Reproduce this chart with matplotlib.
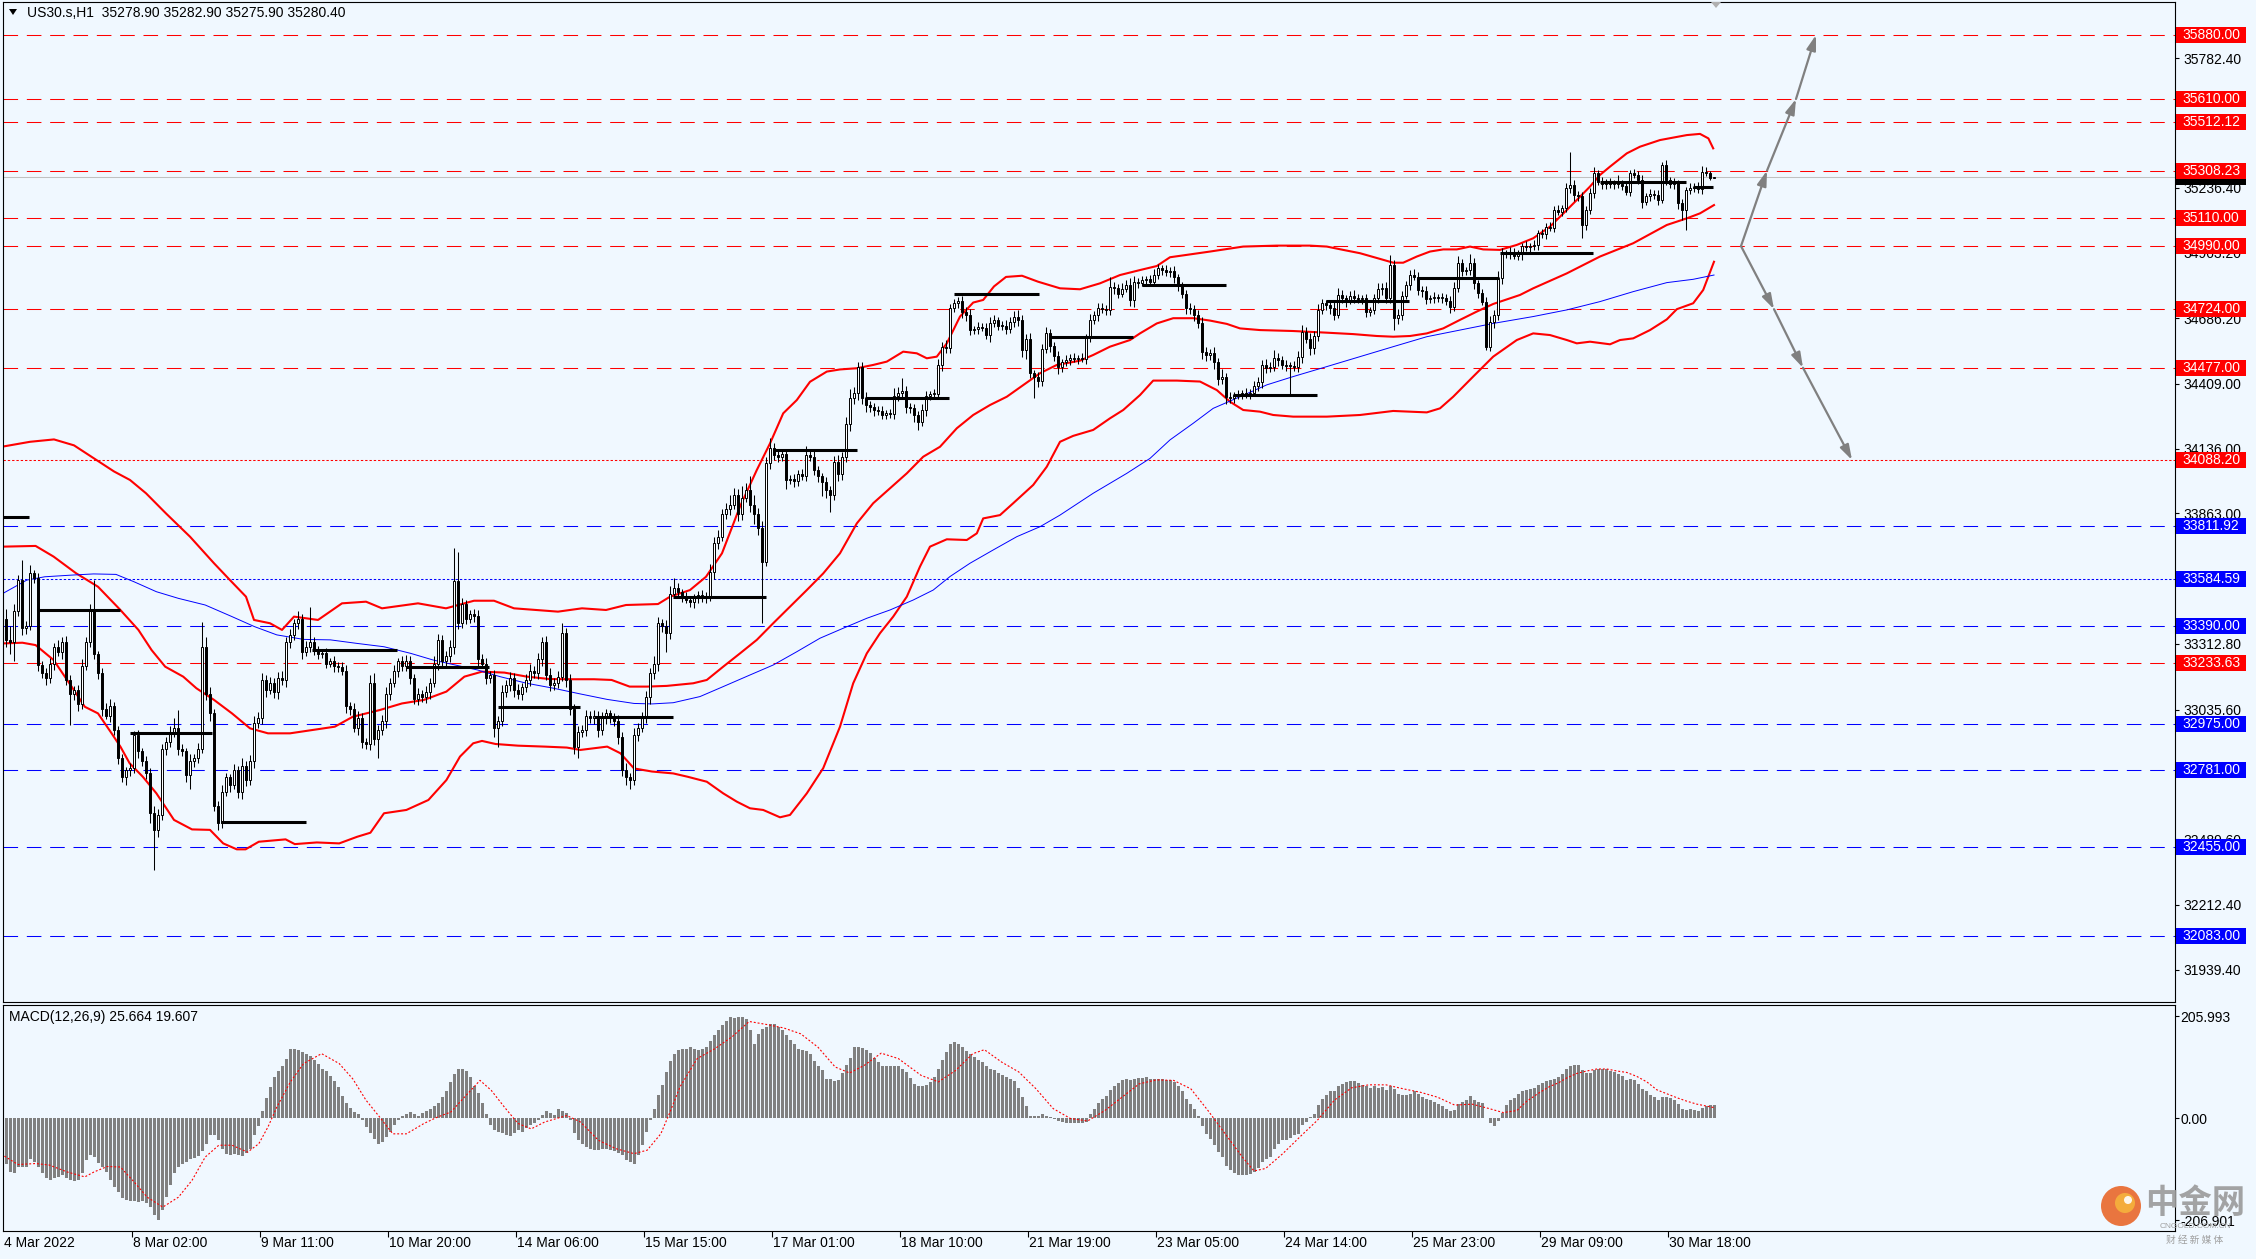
import matplotlib
matplotlib.use('Agg')
import matplotlib.pyplot as plt
import matplotlib.transforms as mtransforms
from matplotlib.patches import Rectangle, Circle, Polygon

plt.rcParams['font.family'] = ['Liberation Sans', 'DejaVu Sans']
plt.rcParams['lines.scale_dashes'] = False

W, H, DPI = 2256, 1259, 100
BG = '#F0F8FF'

# ---------------- data ----------------
first_open = 33420
closes = [
    33330, 33320, 33450, 33582, 33380, 33390, 33610, 33590, 33225, 33190,
    33170, 33230, 33300, 33280, 33320, 33160, 33100, 33120, 33060, 33220,
    33320, 33450, 33270, 33190, 33040, 33010, 33050, 32950, 32830, 32750,
    32780, 32790, 32930, 32860, 32820, 32770, 32600, 32530, 32590, 32870,
    32900, 32940, 32960, 32870, 32860, 32760, 32820, 32830, 32870, 33300,
    33100, 33020, 32630, 32560, 32690, 32750, 32720, 32780, 32690, 32800,
    32740, 32820, 32980, 33000, 33160, 33120, 33150, 33110, 33170, 33160,
    33320, 33350, 33400, 33420, 33280, 33300, 33320, 33290, 33270, 33275,
    33230, 33240, 33220, 33215, 33200, 33050, 33040, 32960, 33000, 32900,
    32890, 33150, 32910, 32950, 32990, 33100, 33150, 33200, 33240, 33220,
    33240, 33170, 33080, 33100, 33090, 33110, 33150, 33230, 33330, 33240,
    33260, 33300, 33580, 33400, 33480, 33420, 33440, 33430, 33250, 33230,
    33170, 33180, 32960, 32990, 33110, 33140, 33170, 33120, 33100, 33130,
    33160, 33200, 33190, 33250, 33320, 33180, 33140, 33150, 33175, 33360,
    33160, 33040, 32880, 32940, 32950, 33010, 33000, 33010, 32950, 33000,
    33020, 33000, 32990, 32920, 32780, 32750, 32740, 32930, 32960, 33000,
    33090, 33190, 33230, 33400, 33390, 33360, 33525, 33550, 33530, 33510,
    33500, 33490, 33505, 33520, 33505, 33515, 33618, 33737, 33765, 33860,
    33880, 33900, 33940, 33860, 33930, 33960, 33900, 33860, 33800, 33660,
    34074, 34140, 34110, 34100, 34115, 34005, 34010, 34000, 34030, 34020,
    34108, 34100, 34045, 34020, 33995, 33960, 33940, 34080, 34030, 34100,
    34240, 34348, 34370, 34480, 34348, 34320, 34310, 34300, 34295, 34280,
    34285, 34282, 34360, 34370, 34380, 34313, 34306, 34280, 34250, 34300,
    34360, 34365, 34367, 34490, 34566, 34560, 34727, 34750, 34760, 34713,
    34700, 34636, 34640, 34650, 34645, 34617, 34665, 34678, 34655, 34652,
    34640, 34670, 34690, 34680, 34552, 34600, 34454, 34440, 34420, 34558,
    34622, 34570, 34526, 34480, 34500, 34510, 34520, 34515, 34518, 34515,
    34601, 34680, 34700, 34730, 34725, 34720, 34819, 34815, 34790, 34810,
    34825, 34763, 34840, 34835, 34845, 34850, 34840, 34868, 34896, 34889,
    34880, 34885, 34858, 34820, 34790, 34730, 34725, 34700, 34665, 34545,
    34531, 34540, 34500, 34430, 34440, 34355, 34350, 34362, 34365, 34370,
    34365, 34372, 34400, 34415, 34489, 34475, 34482, 34520, 34510, 34490,
    34485, 34484, 34480, 34524, 34629, 34600, 34560, 34610, 34720, 34749,
    34740, 34728, 34700, 34784, 34770, 34760, 34780, 34770, 34765, 34770,
    34714, 34720, 34770, 34810, 34815, 34770, 34910, 34686, 34700, 34780,
    34826, 34868, 34860, 34805, 34800, 34765, 34770, 34775, 34770, 34772,
    34760, 34735, 34812, 34917, 34885, 34888, 34920, 34833, 34791, 34756,
    34566, 34670, 34700, 34854, 34960, 34955, 34965, 34950, 34955, 34990,
    34985, 34990, 34995, 35044, 35040, 35072, 35068, 35142, 35135, 35150,
    35234, 35248, 35206, 35200, 35079, 35142, 35213, 35297, 35262, 35252,
    35258, 35250, 35255, 35252, 35245, 35220, 35297, 35290, 35270, 35177,
    35200, 35210, 35205, 35185, 35332, 35268, 35250, 35255, 35170, 35142,
    35225, 35236, 35240, 35230, 35304, 35300, 35279, 35280.4,
]
upper_wick = [
    40, 60, 30, 20, 85, 20, 36, 15, 20, 15, 20, 25, 15, 30, 20, 25, 20, 15, 20, 30,
    20, 30, 132, 15, 20, 25, 30, 20, 15, 20, 15, 20, 15, 20, 15, 20, 20, 30, 25, 20,
    20, 25, 40, 75, 20, 15, 30, 20, 25, 107, 40, 30, 20, 20, 30, 20, 15, 25, 20, 30,
    20, 25, 30, 25, 30, 20, 25, 20, 25, 30, 20, 25, 20, 30, 20, 25, 150, 20, 15, 15,
    20, 15, 20, 15, 20, 25, 20, 25, 30, 20, 15, 30, 40, 20, 25, 30, 20, 25, 15, 20,
    25, 20, 15, 25, 20, 25, 20, 30, 25, 20, 25, 30, 136, 120, 25, 20, 15, 20, 25, 20,
    25, 20, 25, 20, 30, 20, 25, 20, 25, 20, 25, 30, 20, 25, 20, 25, 30, 20, 25, 40,
    20, 25, 20, 25, 20, 25, 20, 25, 20, 25, 20, 15, 20, 25, 20, 30, 20, 30, 20, 25,
    25, 20, 30, 25, 20, 25, 30, 40, 20, 15, 20, 15, 20, 15, 20, 15, 30, 25, 30, 20,
    25, 40, 30, 25, 50, 30, 60, 40, 25, 30, 25, 40, 20, 15, 20, 20, 15, 20, 15, 20,
    40, 20, 25, 20, 15, 20, 20, 25, 30, 20, 30, 40, 25, 23, 20, 25, 15, 20, 15, 20,
    15, 20, 30, 25, 53, 20, 15, 20, 15, 25, 20, 15, 20, 25, 20, 30, 20, 15, 15, 20,
    20, 25, 15, 20, 15, 20, 25, 20, 15, 20, 25, 20, 25, 30, 20, 20, 25, 15, 20, 20,
    25, 20, 15, 20, 15, 20, 15, 20, 15, 20, 20, 25, 15, 20, 20, 15, 40, 20, 15, 25,
    20, 30, 25, 15, 20, 15, 20, 25, 20, 15, 20, 15, 20, 15, 20, 15, 20, 15, 20, 25,
    20, 15, 25, 20, 30, 15, 20, 15, 20, 15, 20, 15, 20, 25, 20, 25, 20, 30, 20, 15,
    20, 15, 20, 25, 30, 20, 25, 20, 25, 20, 15, 20, 25, 30, 20, 15, 20, 25, 20, 15,
    20, 15, 20, 25, 20, 25, 43, 20, 25, 20, 15, 20, 25, 20, 15, 20, 15, 20, 15, 20,
    15, 20, 25, 30, 20, 15, 35, 20, 15, 20, 20, 25, 20, 30, 20, 15, 20, 15, 20, 15,
    20, 15, 20, 15, 20, 15, 20, 15, 20, 15, 20, 140, 20, 15, 20, 15, 20, 28, 15, 20,
    15, 20, 15, 35, 15, 20, 15, 20, 15, 20, 15, 20, 15, 20, 14, 20, 15, 20, 15, 20,
    15, 20, 15, 20, 25, 20, 8, 2.5,
]
lower_wick = [
    30, 50, 80, 20, 30, 25, 20, 20, 25, 20, 30, 20, 25, 20, 30, 20, 130, 25, 30, 20,
    15, 20, 20, 25, 30, 15, 25, 20, 25, 20, 30, 25, 20, 30, 20, 25, 40, 170, 30, 20,
    25, 20, 20, 25, 20, 30, 60, 25, 20, 15, 25, 30, 20, 30, 25, 20, 30, 20, 25, 30,
    25, 20, 30, 20, 25, 30, 20, 25, 30, 20, 30, 25, 20, 25, 30, 20, 20, 25, 20, 15,
    20, 15, 25, 20, 20, 30, 25, 20, 30, 25, 20, 25, 25, 80, 20, 30, 25, 20, 25, 20,
    20, 25, 20, 25, 20, 25, 30, 20, 25, 30, 20, 25, 30, 25, 20, 25, 20, 25, 30, 20,
    25, 20, 40, 80, 25, 20, 25, 30, 20, 25, 20, 25, 20, 25, 30, 20, 25, 20, 25, 20,
    30, 25, 30, 50, 20, 25, 20, 25, 30, 20, 25, 20, 25, 30, 25, 30, 40, 20, 25, 20,
    20, 30, 25, 30, 25, 80, 25, 20, 15, 20, 15, 20, 25, 20, 15, 20, 20, 30, 25, 20,
    20, 25, 20, 30, 25, 20, 30, 40, 30, 260, 20, 25, 20, 20, 15, 40, 20, 25, 20, 15,
    20, 15, 20, 25, 60, 30, 70, 20, 30, 25, 20, 30, 25, 30, 25, 30, 20, 25, 15, 20,
    20, 15, 20, 25, 20, 25, 20, 30, 35, 20, 25, 20, 15, 20, 25, 20, 20, 15, 20, 25,
    25, 20, 15, 20, 15, 20, 30, 15, 20, 15, 20, 15, 20, 25, 30, 40, 20, 90, 25, 20,
    20, 25, 20, 30, 20, 15, 20, 15, 20, 15, 20, 15, 20, 25, 15, 20, 20, 25, 20, 15,
    15, 25, 30, 20, 15, 20, 15, 20, 15, 20, 15, 20, 25, 20, 20, 25, 20, 25, 20, 30,
    25, 20, 30, 25, 20, 30, 23, 20, 15, 20, 15, 20, 15, 20, 25, 20, 15, 20, 25, 20,
    20, 125, 15, 20, 25, 20, 30, 25, 20, 15, 20, 25, 20, 15, 20, 25, 15, 20, 15, 20,
    25, 20, 15, 20, 25, 20, 20, 50, 25, 20, 15, 20, 15, 20, 25, 20, 15, 20, 15, 20,
    20, 25, 20, 15, 20, 15, 20, 25, 20, 15, 14, 20, 25, 20, 25, 15, 20, 15, 20, 25,
    15, 20, 15, 20, 15, 20, 15, 20, 15, 20, 15, 20, 25, 20, 56, 20, 15, 20, 15, 20,
    20, 15, 20, 15, 20, 15, 20, 15, 20, 25, 15, 20, 15, 20, 15, 20, 15, 20, 25, 40,
    84, 15, 20, 15, 20, 15, 10, 3,
]

# Bollinger bands and moving average, read as (bar, price) points
bb_up_x = [-0.75, 6, 12, 17, 22, 27, 31, 35, 40, 46, 52, 56, 60, 62, 66, 69, 72, 78, 84, 90, 94, 103,
           110, 117, 122, 127, 138, 144, 150, 155, 163, 166, 171, 175, 179, 183.5, 187.7, 191, 194.3,
           197.7, 201, 205.2, 208.5, 212.7, 216.8, 220.2, 224.3, 227.7, 230.2, 232.7, 235.2, 238.5,
           241.8, 244.3, 247, 250, 254, 258, 263.5, 268.5, 273.5, 278.5, 283.5, 287.7, 291, 295.2,
           301, 309.3, 317.7, 326, 330.2, 334.3, 338.5, 343.5, 346.8, 349.3, 352.7, 356, 359.3,
           362.7, 366, 369.3, 373.5, 377.7, 381.8, 386, 390.2, 393.5, 396, 398.5, 401, 405.2,
           408.5, 413.5, 420.2, 423.5, 425.6, 426.8]
bb_up_y = [34145, 34165, 34175, 34150, 34095, 34040, 34004, 33948, 33863, 33765, 33653, 33582, 33512,
           33414, 33400, 33372, 33428, 33414, 33484, 33491, 33463, 33484, 33463, 33495, 33495, 33463,
           33449, 33463, 33456, 33477, 33481, 33512, 33540, 33596, 33695, 33892, 34046, 34158, 34285,
           34341, 34418, 34461, 34470, 34475, 34489, 34503, 34545, 34538, 34517, 34524, 34580, 34693,
           34752, 34763, 34820, 34860, 34865, 34840, 34812, 34808, 34833, 34868, 34889, 34906, 34943,
           34953, 34967, 34988, 34992, 34992, 34988, 34974, 34960, 34936, 34920, 34920, 34946, 34967,
           34976, 34976, 34988, 34976, 34974, 34995, 35023, 35072, 35142, 35198, 35241, 35290, 35325,
           35381, 35409, 35437, 35458, 35463, 35444, 35402]
bb_mid_x = [-0.75, 7.4, 11.9, 17.5, 23, 28.6, 33.1, 36.4, 39.8, 44.3, 47.6, 52, 56.5, 61, 65.5, 71,
            76.6, 82.2, 86.7, 93.4, 99, 104.5, 110.1, 114.6, 119, 124.6, 130.2, 135.8, 141.4, 147,
            151.4, 155.9, 160.3, 165.2, 171.8, 175.2, 179.3, 183.5, 187.7, 191.8, 196, 200.2, 204.3,
            208.5, 212.7, 216.8, 221, 225.2, 229.3, 233.5, 237.7, 241.8, 246, 250.2, 254.3, 258.5,
            262.7, 268.5, 271.8, 276, 281, 283.5, 287.7, 291.8, 296.8, 301, 305.2, 308.5, 313.5,
            321.8, 330.2, 336.8, 342.7, 346.8, 351, 355.2, 359.3, 363.5, 367.7, 371.8, 378.5, 381.8,
            390.2, 398.5, 406.8, 415.2, 420.2, 423.5, 427]
bb_mid_y = [33723, 33726, 33681, 33611, 33554, 33456, 33372, 33287, 33217, 33175, 33126, 33077, 33020,
            32957, 32936, 32936, 32950, 32964, 33006, 33034, 33062, 33077, 33112, 33175, 33196, 33192,
            33175, 33165, 33164, 33164, 33161, 33133, 33133, 33136, 33147, 33161, 33217, 33273, 33330,
            33400, 33470, 33540, 33610, 33695, 33821, 33906, 33969, 34032, 34102, 34144, 34222, 34278,
            34320, 34355, 34404, 34454, 34489, 34507, 34531, 34566, 34594, 34622, 34664, 34686, 34686,
            34676, 34662, 34643, 34636, 34632, 34625, 34619, 34611, 34608, 34611, 34622, 34643, 34679,
            34714, 34746, 34784, 34812, 34875, 34946, 35002, 35079, 35107, 35128, 35163]
bb_low_x = [-0.75, 4.1, 7.4, 11.9, 16.4, 19.7, 23, 26.4, 28.6, 30.9, 34.2, 37.6, 42, 46.5, 51, 54.3,
            57.7, 59.9, 63.2, 69.9, 72.2, 77.7, 83.3, 87.8, 91.1, 94.5, 100.1, 105.6, 110.1, 113.5,
            116.8, 119, 122.4, 128, 134.7, 140.2, 143.6, 150.3, 153.6, 157, 161.5, 166.8, 170.4,
            175.2, 179.3, 182.7, 186, 189.3, 193.5, 196, 200.2, 204.3, 208.5, 211.8, 215.2, 218.5,
            221.8, 225.2, 228.5, 231, 235.2, 240.2, 242.7, 244.3, 248.5, 251.8, 256.8, 260.2, 263.5,
            266.8, 271.8, 276, 279.3, 283.5, 286.8, 292.7, 298.5, 302.7, 306, 309.3, 313.5, 316.8,
            321.8, 330.2, 338.5, 346.8, 355.2, 358.5, 361.8, 366.8, 371.8, 377.7, 381.8, 386, 390.2,
            392.7, 396, 401, 403.5, 406.8, 411, 415.2, 417.7, 421.8, 424.3, 427]
bb_low_y = [33315, 33318, 33308, 33245, 33133, 33048, 33020, 32936, 32880, 32810, 32753, 32683, 32571,
            32531, 32529, 32472, 32447, 32447, 32479, 32489, 32469, 32476, 32472, 32500, 32517, 32599,
            32613, 32655, 32739, 32838, 32894, 32904, 32891, 32884, 32880, 32876, 32866, 32880, 32852,
            32788, 32775, 32767, 32753, 32732, 32683, 32648, 32620, 32613, 32582, 32592, 32683, 32789,
            32964, 33147, 33273, 33358, 33428, 33512, 33639, 33723, 33754, 33751, 33779, 33842, 33856,
            33906, 33983, 34060, 34165, 34190, 34215, 34264, 34299, 34362, 34423, 34423, 34419, 34383,
            34334, 34299, 34292, 34278, 34271, 34271, 34278, 34295, 34289, 34306, 34355, 34440, 34524,
            34594, 34622, 34615, 34594, 34580, 34587, 34576, 34594, 34601, 34636, 34681, 34724, 34749,
            34805, 34924]
ma_x = [-0.75, 5.2, 9.7, 16.4, 21.9, 27.5, 32, 37.6, 43.1, 49.8, 56.5, 62.1, 67.7, 74.4, 81.1, 87.8,
        94.5, 101.2, 106.8, 112.3, 117.9, 123.5, 130.2, 136.9, 143.6, 150.3, 157, 161.5, 166.8, 173.5,
        179.3, 186, 191.8, 197.7, 203.5, 209.3, 215.2, 221, 226.8, 231.8, 236, 241, 246.8, 252.7,
        258.5, 263.5, 271.8, 280.2, 286, 291, 296.8, 301.8, 308.5, 315.2, 321.8, 330.2, 338.5, 346.8,
        355.2, 363.5, 371.8, 381.8, 390.2, 398.5, 406.8, 415.2, 421.8, 427]
ma_y = [33526, 33582, 33596, 33603, 33608, 33606, 33575, 33533, 33505, 33477, 33428, 33386, 33351,
        33332, 33330, 33315, 33301, 33273, 33245, 33224, 33203, 33175, 33147, 33126, 33102, 33079,
        33062, 33060, 33065, 33091, 33133, 33182, 33224, 33280, 33337, 33379, 33421, 33456, 33498,
        33540, 33597, 33653, 33709, 33765, 33807, 33856, 33948, 34032, 34095, 34173, 34243, 34306,
        34355, 34405, 34440, 34482, 34524, 34566, 34608, 34636, 34664, 34693, 34721, 34756, 34798,
        34836, 34850, 34868]

# thick black daily segments: start bar, end bar, price
seg_start = [-0.75, 8, 30.9, 53.7, 76.6, 100, 123, 147, 166.8, 191.7, 214.8, 237, 260.8, 283.9, 306.8,
             330, 352.9, 373.5, 398.5, 421.7]
seg_end = [5.8, 28.6, 51.5, 75, 97.8, 120.7, 143.6, 166.8, 190, 212.8, 235.8, 258.2, 281.8, 305,
           327.8, 350.8, 373.3, 396.8, 419.9, 426.8]
seg_price = [33849, 33456, 32939, 32564, 33287, 33217, 33048, 33006, 33512, 34130, 34351, 34790,
             34608, 34826, 34364, 34757, 34857, 34962, 35262, 35241]

red_levels = [35880.00, 35610.00, 35512.12, 35308.23, 35110.00, 34990.00, 34724.00, 34477.00, 33233.63]
red_dotted = [34088.20]
blue_levels = [33811.92, 33390.00, 32975.00, 32781.00, 32455.00, 32083.00]
blue_dotted = [33584.59]
last_price = 35280.40

price_ticks = [35782.40, 35236.40, 34963.20, 34686.20, 34409.00, 34136.00, 33863.00,
               33312.80, 33035.60, 32489.60, 32212.40, 31939.40]

arrow_up_x = [433.75, 440.25, 447.5, 452.5]
arrow_up_y = [34990.00, 35308.23, 35610.00, 35880.00]
arrow_dn_x = [433.75, 442, 449.25, 461.5]
arrow_dn_y = [34990.00, 34724.00, 34477.00, 34088.20]

macd_hist = [
    -92, -110, -112, -98, -100, -98, -82, -88, -98, -112,
    -122, -125, -122, -120, -115, -122, -125, -128, -125, -112,
    -85, -75, -78, -90, -100, -110, -125, -140, -150, -162,
    -165, -168, -168, -170, -168, -172, -180, -195, -206, -185,
    -160, -135, -112, -100, -92, -88, -82, -80, -76, -66,
    -52, -35, -35, -45, -62, -72, -74, -72, -74, -76,
    -70, -62, -35, -17, 14, 40, 62, 82, 95, 105,
    120, 140, 140, 138, 134, 130, 125, 118, 110, 100,
    94, 85, 75, 62, 45, 30, 20, 12, 8, -5,
    -18, -30, -42, -52, -48, -38, -28, -15, -5, 5,
    8, 12, 8, 5, 10, 14, 18, 25, 30, 42,
    55, 72, 88, 98, 100, 95, 82, 65, 50, 30,
    8, -15, -25, -28, -30, -35, -36, -30, -25, -28,
    -20, -15, -10, -5, 6, 15, 10, 6, 18, 14,
    10, -5, -30, -45, -52, -58, -62, -64, -65, -62,
    -62, -64, -66, -70, -75, -84, -88, -92,
    -75, -55, -29, -5, 19, 46, 66, 93, 116, 130,
    137, 140, 140, 143, 140, 138, 140, 143, 155, 167,
    177, 187, 196, 205, 203, 204, 205, 200, 177, 149,
    170, 179, 184, 189, 189, 184, 177, 167, 157, 150,
    140, 138, 136, 129, 116, 106, 96, 79, 79, 75,
    76, 91, 108, 121, 143, 144, 141, 138, 131, 122,
    113, 106, 106, 106, 106, 106, 99, 93, 81, 68,
    64, 64, 66, 73, 83, 98, 118, 133, 149, 153,
    150, 143, 136, 130, 123, 118, 113, 106, 100, 96,
    91, 86, 83, 79, 74, 61, 42, 24, 5, 5,
    5, 9, 5, 3, -2, -6, -8, -10, -10, -11,
    -11, -11, -8, 9, 19, 30, 39, 44, 56, 65,
    71, 76, 78, 77, 79, 81, 81, 83, 79, 78,
    79, 79, 77, 76, 73, 64, 55, 39, 29, 19,
    5, -17, -32, -42, -55, -69, -79, -96, -106, -112,
    -116, -116, -116, -114, -109, -102, -89, -82, -79, -62,
    -53, -45, -44, -40, -35, -32, -15, -8, 3, 9,
    26, 39, 46, 55, 55, 64, 69, 73, 74, 74,
    71, 66, 64, 61, 64, 61, 62, 56, 64, 59,
    48, 46, 46, 49, 54, 49, 42, 39, 36, 32,
    28, 24, 19, 15, 17, 29, 32, 37, 44, 36,
    32, 30, -1, -11, -17, -6,
    10, 26, 36, 41, 48, 54, 57, 59, 61, 67,
    70, 74, 76, 79, 82, 88, 98, 106, 108, 108,
    96, 90, 91, 97, 100, 100, 98, 95, 93, 88,
    84, 76, 78, 76, 69, 58, 54, 47, 43, 36,
    43, 43, 41, 37, 29, 19, 17, 19, 17, 15,
    21, 25, 27, 27,
]
sig_x = [-0.4, 3, 7.4, 10.8, 15.3, 19.7, 22, 25.3, 28.6, 32, 35.3, 39.2, 43.1, 46.5, 49.8, 53.2, 56.5,
         60.4, 63.2, 65.5, 67.7, 71.1, 74.4, 78.9, 83.3, 86.7, 90, 93.4, 96.7, 100.1, 104.5, 107.9,
         111.2, 114.6, 118.5, 121.3, 124.6, 128, 131.3, 134.7, 140.2, 143.6, 148.1, 152.5, 157, 160.3,
         163.7, 165.9, 168.5, 172.8, 177.2, 181.5, 185.8, 190.1, 194.4, 198.7, 203, 207.3, 210.9,
         214.5, 218.8, 223.1, 228.8, 233.1, 237.4, 241.7, 244.6, 248.9, 253.2, 257.5, 261.8, 266.1,
         270.4, 274.7, 279, 283.3, 287.6, 291.9, 296.2, 300.5, 304.8, 309.1, 312, 314.9, 319.2,
         323.5, 327.8, 332.1, 336.4, 340.7, 345, 349.3, 353.6, 357.9, 362.2, 366.5, 370.8, 374.3,
         377.7, 380.2, 383.5, 386, 388.1, 390.2, 392.7, 395.2, 397.7, 400.2, 402.7, 405.2, 407.7,
         410.2, 412.7, 415.2, 417.7, 420.2, 422.7, 425.2, 427]
sig_y = [-77, -94, -92, -95, -109, -119, -109, -98, -99, -129, -160, -180, -160, -126, -79, -55, -55,
         -69, -52, -18, 22, 73, 110, 130, 110, 79, 36, 2, -32, -32, -11, 2, 12, 42, 76, 56, 22, -11,
         -22, -8, 5, -8, -45, -62, -72, -65, -32, 10, 63, 120, 140, 164, 195, 189, 182, 170, 143, 103,
         91, 106, 131, 120, 86, 73, 96, 130, 138, 113, 93, 59, 19, -1, -6, 15, 42, 69, 77, 76, 59, 15,
         -32, -79, -107, -102, -72, -38, -5, 36, 61, 67, 67, 59, 52, 42, 26, 28, 19, 11, 15, 34, 52,
         64, 71, 81, 90, 95, 99, 99, 95, 92, 84, 73, 57, 49, 41, 34, 28, 24, 21]

time_labels = ["8 Mar 02:00", "9 Mar 11:00", "10 Mar 20:00", "14 Mar 06:00", "15 Mar 15:00",
               "17 Mar 01:00", "18 Mar 10:00", "21 Mar 19:00", "23 Mar 05:00", "24 Mar 14:00",
               "25 Mar 23:00", "29 Mar 09:00", "30 Mar 18:00"]

# ---------------- figure ----------------
fig = plt.figure(figsize=(W / DPI, H / DPI), dpi=DPI, facecolor=BG)


def px_axes(x0, y0, x1, y1):
    return fig.add_axes([x0 / W, 1 - y1 / H, (x1 - x0) / W, (y1 - y0) / H])


ax = px_axes(3, 2, 2175, 1002)
ax2 = px_axes(3, 1005, 2175, 1231)
for a in (ax, ax2):
    a.set_facecolor(BG)
    for s in a.spines.values():
        s.set_linewidth(0.8)
        s.set_color('black')

XMIN, XMAX = -0.75, 542.25
ax.set_xlim(XMIN, XMAX)
ax.set_ylim(31803.4, 36019)
ax2.set_xlim(XMIN, XMAX)
ax2.set_ylim(-228.3, 228.3)

DASH = (10.5, 6.3)
DOT = (1.7, 1.4)
for v in red_levels:
    ax.axhline(v, color='#FF0000', lw=0.75, dashes=DASH, zorder=1)
for v in red_dotted:
    ax.axhline(v, color='#FF0000', lw=0.75, dashes=DOT, zorder=1)
for v in blue_levels:
    ax.axhline(v, color='#0000FF', lw=0.75, dashes=DASH, zorder=1)
for v in blue_dotted:
    ax.axhline(v, color='#0000FF', lw=0.75, dashes=DOT, zorder=1)
ax.axhline(last_price, color='#C0C0C0', lw=0.75, zorder=1)

# bands and moving average
ax.plot(bb_up_x, bb_up_y, color='#FF0000', lw=1.5, zorder=2)
ax.plot(bb_mid_x, bb_mid_y, color='#FF0000', lw=1.5, zorder=2)
ax.plot(bb_low_x, bb_low_y, color='#FF0000', lw=1.5, zorder=2)
ax.plot(ma_x, ma_y, color='#0000FF', lw=0.7, zorder=2)

# candles
n = len(closes)
opens = [first_open] + closes[:-1]
idx = list(range(n))
highs = [max(o, c) + u for o, c, u in zip(opens, closes, upper_wick)]
lows = [min(o, c) - d for o, c, d in zip(opens, closes, lower_wick)]
ax.vlines(idx, lows, highs, color='black', lw=0.75, zorder=3)
bottoms = [min(o, c) for o, c in zip(opens, closes)]
heights = [max(abs(c - o), 4) for o, c in zip(opens, closes)]
colors = ['black' if c < o else 'white' for o, c in zip(opens, closes)]
ax.bar(idx, heights, bottom=bottoms, width=0.55, color=colors, edgecolor='black',
       linewidth=0.7, zorder=4)

# daily segments
ax.hlines(seg_price, seg_start, seg_end, color='black', lw=2.2, zorder=5)

# arrows
for xs, ys in ((arrow_up_x, arrow_up_y), (arrow_dn_x, arrow_dn_y)):
    for k in range(len(xs) - 1):
        ax.annotate('', xy=(xs[k + 1], ys[k + 1]), xytext=(xs[k], ys[k]),
                    arrowprops=dict(arrowstyle='-|>,head_length=0.9,head_width=0.28',
                                    color='#808080', lw=1.6, shrinkA=0, shrinkB=0),
                    annotation_clip=False, zorder=6)

# price axis
ax.set_xticks([])
ax.yaxis.tick_right()
ax.set_yticks(price_ticks)
ax.set_yticklabels([f"{v:.2f}" for v in price_ticks])
ax.tick_params(axis='y', length=3, width=0.8, pad=3, labelsize=10, direction='out')

blend = mtransforms.blended_transform_factory(ax.transAxes, ax.transData)
box_x0 = (2176 - 3) / 2172
box_w = 70 / 2172
box_cx = (2211 - 3) / 2172
half = 8 * 4.2157


def price_box(v, color, text=True):
    ax.add_patch(Rectangle((box_x0, v - half), box_w, 2 * half, transform=blend,
                           facecolor=color, edgecolor='none', clip_on=False, zorder=20))
    if text:
        ax.text(box_cx, v, f"{v:.2f}", transform=blend, color='white', fontsize=10,
                ha='center', va='center', clip_on=False, zorder=21)


price_box(last_price, 'black', text=False)
for v in red_levels + red_dotted:
    price_box(v, '#FF0000')
for v in blue_levels + blue_dotted:
    price_box(v, '#0000FF')

# MACD panel
ax2.bar(idx, macd_hist, width=0.75, color='#808080', linewidth=0, zorder=2)
ax2.plot(sig_x, sig_y, color='#FF0000', lw=0.8, dashes=(1.4, 1.4), zorder=3)
ax2.yaxis.tick_right()
ax2.set_yticks([205.993, 0, -206.901])
ax2.set_yticklabels(['205.993', '0.00', '-206.901'])
ax2.tick_params(axis='y', length=3, width=0.8, pad=1, labelsize=10, direction='out')
tick_pos = [31.5 + 32 * k for k in range(len(time_labels))]
ax2.set_xticks(tick_pos)
ax2.tick_params(axis='x', length=4, width=0.8, direction='out', labelbottom=False)
for x, lab in zip([XMIN] + tick_pos, ["4 Mar 2022"] + time_labels):
    ax2.annotate(lab, xy=(x, 0), xycoords=('data', 'axes fraction'), xytext=(1, -5),
                 textcoords='offset pixels', ha='left', va='top', fontsize=10,
                 annotation_clip=False)

# header texts
fig.text(27 / W, 1 - 13 / H, "US30.s,H1  35278.90 35282.90 35275.90 35280.40",
         fontsize=10, va='center', ha='left')
fig.add_artist(Polygon([(9 / W, 1 - 9 / H), (17 / W, 1 - 9 / H), (13 / W, 1 - 15 / H)],
                       closed=True, transform=fig.transFigure, facecolor='black', edgecolor='none'))
fig.add_artist(Polygon([(1711 / W, 1 - 2 / H), (1721 / W, 1 - 2 / H), (1716 / W, 1 - 8 / H)],
                       closed=True, transform=fig.transFigure, facecolor='#B0B0B0', edgecolor='none'))
fig.text(9 / W, 1 - 1017 / H, "MACD(12,26,9) 25.664 19.607", fontsize=10, va='center', ha='left')

# watermark
ident = mtransforms.IdentityTransform()
fig.add_artist(Circle((2121, H - 1206), 20, transform=ident, facecolor='#E9672A',
                      edgecolor='none', alpha=0.9))
fig.add_artist(Circle((2125, H - 1203), 10, transform=ident, facecolor='#F6B33C',
                      edgecolor='none', alpha=0.9))
fig.add_artist(Circle((2128, H - 1200), 4, transform=ident, facecolor='white',
                      edgecolor='none', alpha=0.9))
fig.text(2195 / W, 1 - 1203 / H, "中金网", family=['Noto Sans CJK SC', 'DejaVu Sans'],
         fontsize=24, fontweight='bold', color='#9A9A9A', ha='center', va='center', alpha=0.9)
fig.text(2195 / W, 1 - 1227 / H, "CNGOLD.COM.CN", fontsize=6, color='#A0A0A0',
         ha='center', va='center')
fig.text(2195 / W, 1 - 1240 / H, "财 经 新 媒 体", family=['Noto Sans CJK SC', 'DejaVu Sans'],
         fontsize=7, color='#A0A0A0', ha='center', va='center')

fig.savefig('out.png', dpi=DPI, facecolor=BG)
